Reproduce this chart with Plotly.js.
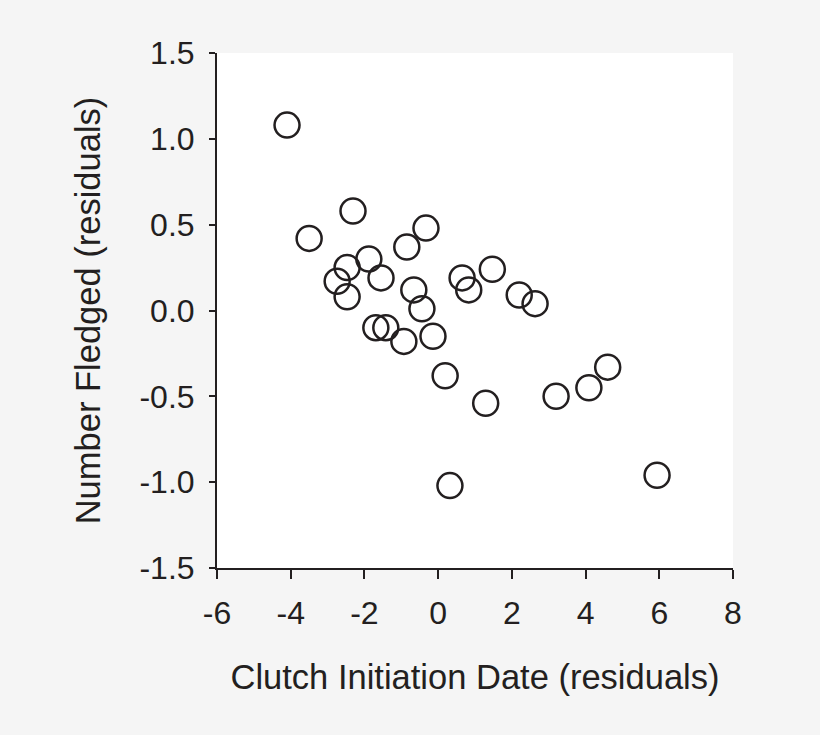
<!DOCTYPE html>
<html>
<head>
<meta charset="utf-8">
<script src="https://cdn.plot.ly/plotly-3.0.1.min.js"></script>
<style>html,body{margin:0;padding:0;background:#f5f5f5;}#chart{width:820px;height:735px;}</style>
</head>
<body>
<div id="chart"></div>
<script>
// Data
var clutchDate = [-4.10, -3.50, -2.31, -2.74, -2.47, -2.47, -1.88, -1.55, -1.69, -1.42, -0.93, -0.85, -0.33, -0.66, -0.44, -0.14, 0.19, 0.32, 0.65, 0.83, 1.47, 1.29, 2.20, 2.63, 3.20, 4.09, 4.60, 5.94];
var numFledged = [1.08, 0.42, 0.58, 0.17, 0.25, 0.08, 0.30, 0.19, -0.10, -0.10, -0.18, 0.37, 0.48, 0.12, 0.01, -0.15, -0.38, -1.02, 0.19, 0.12, 0.24, -0.54, 0.09, 0.04, -0.50, -0.45, -0.33, -0.96];
var xTickVals = [-6, -4, -2, 0, 2, 4, 6, 8];
var xTickText = ["-6", "-4", "-2", "0", "2", "4", "6", "8"];
var yTickVals = [-1.5, -1.0, -0.5, 0.0, 0.5, 1.0, 1.5];
var yTickText = ["-1.5", "-1.0", "-0.5", "0.0", "0.5", "1.0", "1.5"];

var ink = '#231f20';
var trace = {
  x: clutchDate, y: numFledged, type: 'scatter', mode: 'markers',
  marker: {symbol: 'circle', size: 25, color: 'rgba(0,0,0,0)', line: {color: ink, width: 2.5}},
  cliponaxis: false, hoverinfo: 'none'
};
var fontFam = 'Liberation Sans, Arial, sans-serif';
var layout = {
  width: 820, height: 735,
  paper_bgcolor: '#f5f5f5', plot_bgcolor: '#ffffff',
  margin: {l: 217, r: 87, t: 53, b: 167},
  showlegend: false,
  font: {family: fontFam, color: ink, size: 32},
  xaxis: {
    range: [-6, 8], tickvals: xTickVals, ticktext: xTickText,
    showgrid: false, zeroline: false, showline: true, linecolor: ink, linewidth: 2,
    ticks: 'outside', ticklen: 9, tickwidth: 2, tickcolor: ink,
    tickfont: {size: 32, color: ink}, ticklabelstandoff: 7,
    title: {text: 'Clutch Initiation Date (residuals)', font: {size: 34.5, color: ink}, standoff: 34}
  },
  yaxis: {
    range: [-1.5, 1.5], tickvals: yTickVals, ticktext: yTickText,
    showgrid: false, zeroline: false, showline: true, linecolor: ink, linewidth: 2,
    ticks: 'outside', ticklen: 6, tickwidth: 2, tickcolor: ink,
    tickfont: {size: 32, color: ink}, ticklabelstandoff: 8,
    title: {text: 'Number Fledged (residuals)', font: {size: 34.5, color: ink}, standoff: 28}
  }
};
Plotly.newPlot('chart', [trace], layout, {displayModeBar: false, staticPlot: true});
</script>
</body>
</html>
